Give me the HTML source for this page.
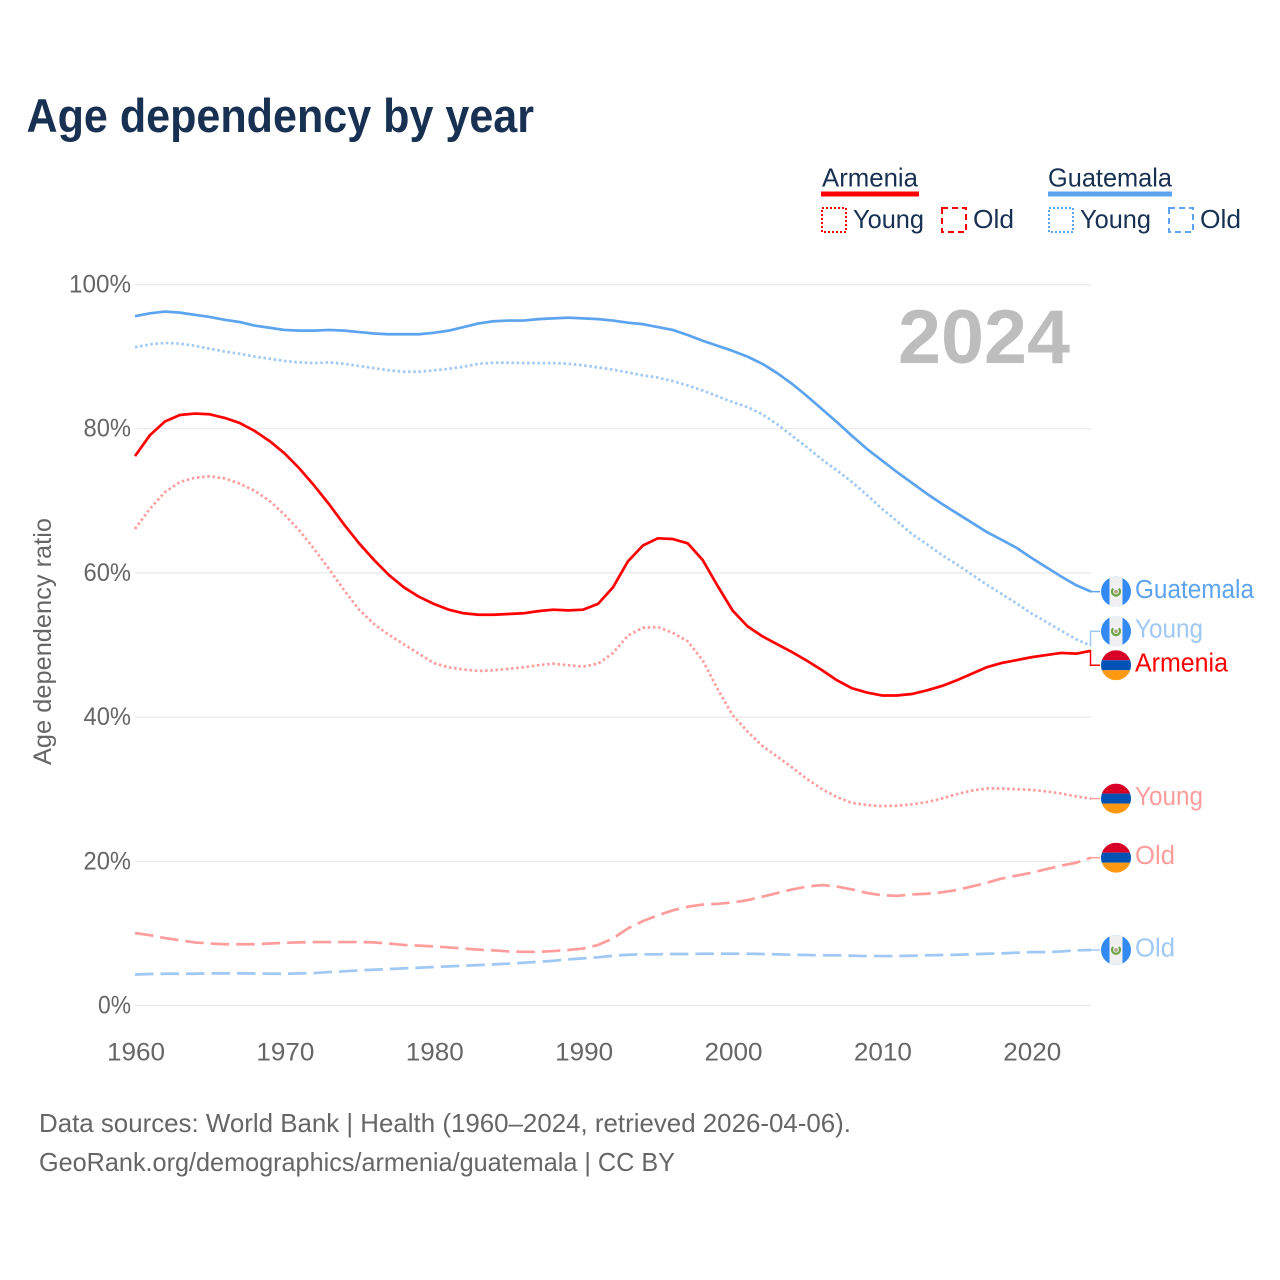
<!DOCTYPE html>
<html lang="en">
<head>
<meta charset="utf-8">
<title>Age dependency by year</title>
<style>
  html, body { margin: 0; padding: 0; background: #fff; }
  svg { display: block; }
  text { font-family: "Liberation Sans", sans-serif; }
</style>
</head>
<body>
<svg id="chart" xmlns="http://www.w3.org/2000/svg" width="1280" height="1280" viewBox="0 0 1280 1280">
  <defs>
    <clipPath id="flag-clip"><circle cx="0" cy="0" r="15"/></clipPath>
    <g id="flag-armenia" clip-path="url(#flag-clip)">
      <rect x="-15" y="-15" width="30" height="10" fill="#d80027"/>
      <rect x="-15" y="-5" width="30" height="10" fill="#0052b4"/>
      <rect x="-15" y="5" width="30" height="10" fill="#ff9811"/>
    </g>
    <g id="flag-guatemala" clip-path="url(#flag-clip)">
      <rect x="-15" y="-15" width="30" height="30" fill="#338af3"/>
      <rect x="-6.5" y="-15" width="13" height="30" fill="#f0f0f0"/>
      <path d="M -2.8 -3 A 4 4 0 1 0 2.8 -3" fill="none" stroke="#6da544" stroke-width="2.2"/>
      <circle cx="0" cy="0" r="1.8" fill="#b0a080"/>
    </g>
  </defs>
  <rect x="0" y="0" width="1280" height="1280" fill="#ffffff"/>

  <text x="26.5" y="132" font-size="47" font-weight="700" fill="#183152" textLength="507.5" lengthAdjust="spacingAndGlyphs">Age dependency by year</text>

  <g font-size="26" fill="#183152">
    <text x="822" y="186.5" textLength="96" lengthAdjust="spacingAndGlyphs">Armenia</text>
    <rect x="821" y="191.5" width="98" height="5" fill="#ff0000"/>
    <rect x="822" y="208" width="24" height="24" fill="none" stroke="#ff0000" stroke-width="2" stroke-dasharray="2 2"/>
    <text x="853" y="228" textLength="71" lengthAdjust="spacingAndGlyphs">Young</text>
    <rect x="942" y="208" width="24" height="24" fill="none" stroke="#ff0000" stroke-width="2" stroke-dasharray="6 4"/>
    <text x="973" y="228" textLength="41" lengthAdjust="spacingAndGlyphs">Old</text>
    <text x="1048" y="186.5" textLength="124" lengthAdjust="spacingAndGlyphs">Guatemala</text>
    <rect x="1048" y="191.5" width="124" height="5" fill="#5ca4ef"/>
    <rect x="1049" y="208" width="24" height="24" fill="none" stroke="#5ca4ef" stroke-width="2" stroke-dasharray="2 2"/>
    <text x="1080" y="228" textLength="71" lengthAdjust="spacingAndGlyphs">Young</text>
    <rect x="1169" y="208" width="24" height="24" fill="none" stroke="#5ca4ef" stroke-width="2" stroke-dasharray="6 4"/>
    <text x="1200" y="228" textLength="41" lengthAdjust="spacingAndGlyphs">Old</text>
  </g>

  <g id="grid"></g>
  <g id="y-axis"></g>
  <g id="x-axis"></g>

  <text transform="translate(51 765) rotate(-90)" x="0" y="0" font-size="25" fill="#666666" textLength="247" lengthAdjust="spacingAndGlyphs">Age dependency ratio</text>

  <text x="898" y="363" font-size="76" font-weight="700" fill="#bdbdbd" textLength="172" lengthAdjust="spacingAndGlyphs">2024</text>

  <g id="series"></g>
  <g id="labels"></g>

  <text x="39" y="1132" font-size="26" fill="#666666" textLength="812" lengthAdjust="spacingAndGlyphs">Data sources: World Bank | Health (1960–2024, retrieved 2026-04-06).</text>
  <text x="39" y="1171" font-size="26" fill="#666666" textLength="636" lengthAdjust="spacingAndGlyphs">GeoRank.org/demographics/armenia/guatemala | CC BY</text>
</svg>

<script>
const firstYear = 1960;
const xTickYears = [1960, 1970, 1980, 1990, 2000, 2010, 2020];
const yTickValues = [0, 20, 40, 60, 80, 100];

const armeniaTotal = [
  76.2,79.1,81.0,81.9,82.1,82.0,81.5,80.8,79.7,78.3,
  76.6,74.5,72.1,69.5,66.7,64.1,61.8,59.7,58.0,56.7,
  55.7,54.9,54.4,54.2,54.2,54.3,54.4,54.7,54.9,54.8,
  54.9,55.7,58.0,61.6,63.8,64.8,64.7,64.1,61.8,58.2,
  54.8,52.6,51.2,50.1,49.0,47.8,46.5,45.1,44.0,43.4,
  43.0,43.0,43.2,43.7,44.3,45.1,46.0,46.9,47.5,47.9,
  48.3,48.6,48.9,48.8,49.2
];
const armeniaYoung = [
  66.1,68.9,71.2,72.6,73.2,73.4,73.1,72.4,71.4,70.0,
  68.1,65.9,63.3,60.5,57.6,54.9,52.9,51.4,50.1,48.8,
  47.5,46.9,46.6,46.4,46.5,46.7,46.9,47.2,47.4,47.2,
  47.0,47.4,48.9,51.3,52.4,52.5,51.7,50.5,47.9,43.9,
  40.3,38.0,36.0,34.5,33.0,31.4,30.0,28.9,28.1,27.8,
  27.65,27.7,27.9,28.2,28.7,29.3,29.8,30.1,30.1,30.0,
  29.9,29.7,29.4,29.0,28.7
];
const armeniaOld = [
  10.05,9.75,9.35,9.05,8.75,8.6,8.5,8.5,8.5,8.6,
  8.7,8.75,8.8,8.8,8.8,8.8,8.75,8.6,8.4,8.3,
  8.2,8.05,7.9,7.75,7.65,7.5,7.45,7.45,7.55,7.7,
  7.9,8.4,9.3,10.7,11.7,12.5,13.2,13.7,14.0,14.1,
  14.3,14.6,15.1,15.6,16.1,16.5,16.7,16.5,16.1,15.6,
  15.3,15.2,15.4,15.5,15.7,16.0,16.5,17.0,17.6,18.0,
  18.4,18.9,19.4,19.8,20.5
];
const guatemalaTotal = [
  95.6,96.0,96.25,96.1,95.8,95.5,95.1,94.8,94.3,94.0,
  93.7,93.6,93.6,93.7,93.6,93.4,93.2,93.1,93.1,93.1,
  93.3,93.6,94.1,94.6,94.9,95.0,95.0,95.2,95.3,95.4,
  95.3,95.2,95.0,94.7,94.5,94.1,93.7,93.0,92.2,91.5,
  90.8,90.0,89.0,87.7,86.2,84.5,82.7,80.9,79.0,77.2,
  75.6,74.0,72.5,71.0,69.6,68.3,67.0,65.7,64.6,63.5,
  62.1,60.8,59.5,58.3,57.4
];
const guatemalaYoung = [
  91.3,91.7,91.9,91.8,91.5,91.1,90.7,90.4,90.0,89.7,
  89.4,89.2,89.1,89.2,89.0,88.7,88.4,88.1,87.9,87.9,
  88.1,88.3,88.6,89.0,89.15,89.15,89.1,89.1,89.1,89.0,
  88.8,88.5,88.2,87.8,87.4,87.1,86.6,86.0,85.3,84.5,
  83.7,83.0,82.0,80.6,79.0,77.4,75.7,74.2,72.6,70.8,
  68.9,67.2,65.4,64.0,62.5,61.2,59.8,58.4,57.1,55.8,
  54.4,53.2,52.0,50.8,49.9
];
const guatemalaOld = [
  4.3,4.37,4.4,4.4,4.4,4.46,4.46,4.46,4.44,4.4,
  4.4,4.46,4.5,4.64,4.74,4.87,4.96,5.06,5.15,5.24,
  5.34,5.43,5.52,5.6,5.7,5.8,5.93,6.07,6.2,6.4,
  6.54,6.68,6.9,7.04,7.1,7.1,7.14,7.14,7.18,7.18,
  7.18,7.18,7.14,7.1,7.04,7.0,6.96,6.96,6.9,6.86,
  6.86,6.86,6.9,6.96,7.0,7.04,7.1,7.18,7.23,7.32,
  7.4,7.4,7.5,7.65,7.7
];

const NS = 'http://www.w3.org/2000/svg';
const plotLeft = 135, plotRight = 1091, plotBottom = 1005.5, plotTop = 284.5;
const lastYear = firstYear + armeniaTotal.length - 1;
function xScale(year) { return plotLeft + (year - firstYear) * (plotRight - plotLeft) / (lastYear - firstYear); }
function yScale(v) { return plotBottom - v * (plotBottom - plotTop) / 100; }
function make(tag, attrs, parent) {
  const el = document.createElementNS(NS, tag);
  for (const k in attrs) el.setAttribute(k, attrs[k]);
  parent.appendChild(el);
  return el;
}
function tickWidth(label) {
  const digits = label.replace('%', '').length;
  return digits * 14.5 + (label.indexOf('%') >= 0 ? 18.5 : 0);
}

const grid = document.getElementById('grid');
const yAxis = document.getElementById('y-axis');
const xAxis = document.getElementById('x-axis');

yTickValues.forEach(function (v) {
  const line = make('line', { x1: plotLeft, x2: plotRight, y1: yScale(v), y2: yScale(v), stroke: '#e9e9e9', 'stroke-width': 1.2 }, grid);
  
  
  const label = v + '%';
  const w = tickWidth(label);
  const t = make('text', { x: 131 - w, y: yScale(v) + 8, 'font-size': 25, fill: '#666666', textLength: w, lengthAdjust: 'spacingAndGlyphs' }, yAxis);
  
  
  t.textContent = label;
});

xTickYears.forEach(function (year) {
  const label = String(year);
  const w = tickWidth(label);
  const t = make('text', { x: xScale(year) - w / 2 + 1, y: 1060.5, 'font-size': 25, fill: '#666666', textLength: w, lengthAdjust: 'spacingAndGlyphs' }, xAxis);
  
  
  t.textContent = label;
});

const RED = '#ff0000', BLUE = '#5ca4ef', PINK = '#ff9c9c', SKY = '#9fc8f4';
const DOT = '2.5 2.7', DASH = '18.5 7';

const seriesList = [
  { key: 'guatemala-total', values: guatemalaTotal, color: BLUE, dash: null,  flag: 'flag-guatemala', label: 'Guatemala', labelWidth: 119 },
  { key: 'guatemala-young', values: guatemalaYoung, color: SKY,  dash: DOT,   flag: 'flag-guatemala', label: 'Young',     labelWidth: 68 },
  { key: 'guatemala-old',   values: guatemalaOld,   color: SKY,  dash: DASH,  flag: 'flag-guatemala', label: 'Old',       labelWidth: 40 },
  { key: 'armenia-young',   values: armeniaYoung,   color: PINK, dash: DOT,   flag: 'flag-armenia',   label: 'Young',     labelWidth: 68 },
  { key: 'armenia-old',     values: armeniaOld,     color: PINK, dash: DASH,  flag: 'flag-armenia',   label: 'Old',       labelWidth: 40 },
  { key: 'armenia-total',   values: armeniaTotal,   color: RED,  dash: null,  flag: 'flag-armenia',   label: 'Armenia',   labelWidth: 93 }
];

const seriesGroup = document.getElementById('series');
const labelsGroup = document.getElementById('labels');

seriesList.forEach(function (s) {
  const pts = s.values.map(function (v, i) { return xScale(firstYear + i).toFixed(2) + ',' + yScale(v).toFixed(2); });
  const attrs = { d: 'M' + pts.join('L'), fill: 'none', stroke: s.color, 'stroke-width': 2.7, 'stroke-linejoin': 'round' };
  if (s.dash) attrs['stroke-dasharray'] = s.dash;
  const path = make('path', attrs, seriesGroup);
  
  
});

/* End labels: start at the series' final value, then push apart any that would overlap. */
const minLabelGap = 34;
const placed = seriesList.map(function (s) {
  return { s: s, endY: yScale(s.values[s.values.length - 1]), y: yScale(s.values[s.values.length - 1]) };
}).sort(function (a, b) { return a.y - b.y; });
for (let pass = 0; pass < 8; pass++) {
  for (let i = 0; i < placed.length - 1; i++) {
    const gap = placed[i + 1].y - placed[i].y;
    if (gap < minLabelGap) {
      const shift = (minLabelGap - gap) / 2;
      placed[i].y -= shift;
      placed[i + 1].y += shift;
    }
  }
}

placed.forEach(function (p) {
  const s = p.s;
  const endX = plotRight - 0.5;
  const connector = make('path', {
    d: 'M' + endX + ' ' + p.endY.toFixed(2) + 'V' + p.y.toFixed(2) + 'H1100',
    fill: 'none', stroke: s.color, 'stroke-width': 1.5
  }, labelsGroup);
  
  

  const flag = make('use', { href: '#' + s.flag, transform: 'translate(1116 ' + p.y.toFixed(2) + ')' }, labelsGroup);
  
  

  const t = make('text', { x: 1135, y: (p.y + 6.3).toFixed(2), 'font-size': 25.5, fill: s.color, textLength: s.labelWidth, lengthAdjust: 'spacingAndGlyphs' }, labelsGroup);
  
  
  t.textContent = s.label;
});
</script>
</body>
</html>
